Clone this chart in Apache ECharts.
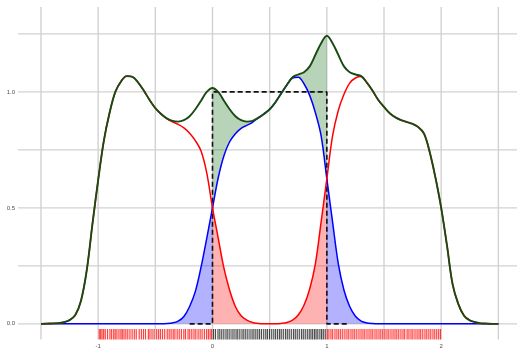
<!DOCTYPE html>
<html>
<head>
<meta charset="utf-8">
<script src="https://cdn.jsdelivr.net/npm/echarts@6/dist/echarts.min.js"></script>
<style>
html,body{margin:0;padding:0;background:#fff;}
#chart{width:517px;height:349px;}
</style>
</head>
<body>
<div id="chart"></div>
<script>
// x grid of the curves (step 0.05 from -1.5 to 2.5)
const xs = [-1.5,-1.45,-1.4,-1.35,-1.3,-1.25,-1.2,-1.15,-1.1,-1.05,-1,-0.95,-0.9,-0.85,-0.8,-0.75,-0.7,-0.65,-0.6,-0.55,-0.5,-0.45,-0.4,-0.35,-0.3,-0.25,-0.2,-0.15,-0.1,-0.05,0,0.05,0.1,0.15,0.2,0.25,0.3,0.35,0.4,0.45,0.5,0.55,0.6,0.65,0.7,0.75,0.8,0.85,0.9,0.95,1,1.05,1.1,1.15,1.2,1.25,1.3,1.35,1.4,1.45,1.5,1.55,1.6,1.65,1.7,1.75,1.8,1.85,1.9,1.95,2,2.05,2.1,2.15,2.2,2.25,2.3,2.35,2.4,2.45,2.5];

// total curve (dark green)
const greenVals = [0,0.001,0.002,0.003,0.007,0.016,0.038,0.1,0.23,0.43,0.62,0.79,0.91,1.0,1.045,1.068,1.065,1.04,1.005,0.965,0.93,0.905,0.886,0.875,0.872,0.878,0.895,0.925,0.962,1.0,1.017,1.0,0.962,0.925,0.895,0.878,0.872,0.875,0.888,0.905,0.925,0.955,0.993,1.03,1.063,1.075,1.085,1.11,1.16,1.21,1.242,1.21,1.16,1.11,1.085,1.075,1.068,1.04,1.005,0.965,0.935,0.908,0.89,0.878,0.87,0.862,0.848,0.82,0.74,0.63,0.5,0.34,0.17,0.085,0.035,0.015,0.007,0.002,0.001,0,0];

// red component
const redVals = [0,0.001,0.002,0.003,0.007,0.016,0.038,0.1,0.23,0.43,0.62,0.79,0.91,1.0,1.045,1.068,1.065,1.04,1.005,0.965,0.93,0.905,0.885,0.871,0.86,0.845,0.822,0.79,0.745,0.65,0.5,0.37,0.24,0.145,0.075,0.035,0.016,0.006,0.002,0,0,0,0.002,0.006,0.016,0.038,0.08,0.15,0.26,0.44,0.625,0.81,0.92,0.99,1.038,1.06,1.066,1.04,1.005,0.965,0.935,0.908,0.89,0.878,0.87,0.862,0.848,0.82,0.74,0.63,0.5,0.34,0.17,0.085,0.035,0.015,0.007,0.002,0.001,0,0];

// blue component
const blueVals = [0,0,0,0,0,0,0,0,0,0,0,0,0,0,0,0,0,0,0,0,0,0,0.001,0.004,0.012,0.032,0.075,0.14,0.245,0.37,0.5,0.63,0.725,0.785,0.82,0.843,0.856,0.869,0.888,0.905,0.925,0.955,0.993,1.03,1.06,1.063,1.035,0.985,0.91,0.81,0.625,0.44,0.26,0.145,0.075,0.033,0.012,0.004,0.001,0,0,0,0,0,0,0,0,0,0,0,0,0,0,0,0,0,0,0,0,0,0];

// dashed reference outline
const dashX = [-0.2,0,0,1,1,1.2];
const dashY = [0,0,1,1,0,0];

// rug positions
const rugRed = [-0.99,-0.978,-0.966,-0.952,-0.938,-0.918,-0.897,-0.882,-0.864,-0.851,-0.836,-0.818,-0.801,-0.789,-0.774,-0.758,-0.741,-0.722,-0.703,-0.684,-0.667,-0.641,-0.622,-0.604,-0.586,-0.561,-0.547,-0.529,-0.511,-0.488,-0.471,-0.455,-0.437,-0.418,-0.396,-0.379,-0.362,-0.344,-0.329,-0.309,-0.291,-0.272,-0.251,-0.236,-0.214,-0.199,-0.181,-0.162,-0.146,-0.126,-0.108,-0.091,-0.071,-0.052,-0.036,-0.021,-0.008,
  1.004,1.018,1.036,1.051,1.071,1.088,1.104,1.121,1.139,1.158,1.176,1.192,1.211,1.228,1.244,1.262,1.281,1.299,1.316,1.332,1.351,1.369,1.386,1.402,1.421,1.438,1.456,1.472,1.489,1.508,1.526,1.542,1.561,1.579,1.596,1.612,1.629,1.648,1.666,1.681,1.702,1.718,1.736,1.752,1.771,1.789,1.806,1.821,1.839,1.858,1.874,1.892,1.909,1.928,1.944,1.961,1.978,1.994];
const rugBlack = [0.009,0.026,0.048,0.064,0.081,0.099,0.118,0.134,0.152,0.171,0.188,0.206,0.221,0.239,0.258,0.274,0.291,0.309,0.328,0.346,0.362,0.379,0.396,0.412,0.429,0.448,0.466,0.481,0.499,0.518,0.536,0.552,0.569,0.586,0.601,0.619,0.638,0.654,0.671,0.689,0.708,0.724,0.741,0.759,0.778,0.794,0.811,0.829,0.846,0.861,0.876,0.892,0.906,0.921,0.939,0.954,0.969,0.986];

// gridlines and tick labels
const gridXVals = [-1.5,-1,-0.5,0,0.5,1,1.5,2,2.5];
const gridYVals = [0,0.25,0.5,0.75,1,1.25];
const xTickLabels = [-1,0,1,2];
const yTickLabels = [0,0.5,1];

const X_MIN = -1.701, X_MAX = 2.663, Y_MIN = -0.0675, Y_MAX = 1.366;

function pairs(xa, ya){ return xa.map((x,i)=>[x, ya[i]]); }
function idx(v){ return xs.findIndex(x => Math.abs(x - v) < 1e-9); }

const chart = echarts.init(document.getElementById('chart'), null, {renderer:'canvas'});

function underPoly(api, arr, a, b){
  const i0 = idx(a), i1 = idx(b);
  const pts = [api.coord([xs[i0], 0])];
  for (let i = i0; i <= i1; i++) pts.push(api.coord([xs[i], arr[i]]));
  pts.push(api.coord([xs[i1], 0]));
  return pts;
}
function betweenPoly(api, top, bot, a, b){
  const i0 = idx(a), i1 = idx(b);
  const pts = [];
  for (let i = i0; i <= i1; i++) pts.push(api.coord([xs[i], top[i]]));
  for (let i = i1; i >= i0; i--) pts.push(api.coord([xs[i], bot[i]]));
  return pts;
}

const option = {
  animation: false,
  backgroundColor: '#ffffff',
  grid: { left: 18, right: 0, top: 7, bottom: 6.5, containLabel: false },
  xAxis: {
    type: 'value', min: X_MIN, max: X_MAX,
    axisLine: {show:false}, axisTick: {show:false}, splitLine: {show:false},
    axisLabel: { customValues: xTickLabels, fontSize: 6, color: '#4d4d4d', margin: 3.5, fontFamily: 'Liberation Sans' }
  },
  yAxis: {
    type: 'value', min: Y_MIN, max: Y_MAX,
    axisLine: {show:false}, axisTick: {show:false}, splitLine: {show:false},
    axisLabel: { customValues: yTickLabels, fontSize: 6, color: '#4d4d4d', margin: 3, fontFamily: 'Liberation Sans',
      formatter: v => Number(v).toFixed(1) }
  },
  series: [
    { // gridlines
      type: 'custom', z: 0, silent: true, data: [[0,0]],
      renderItem: (params, api) => {
        const cs = params.coordSys;
        const ch = [];
        gridXVals.forEach(v => {
          const p = api.coord([v, 0]);
          ch.push({type:'line', shape:{x1:p[0], y1:cs.y, x2:p[0], y2:cs.y+cs.height}, style:{stroke:'#d2d2d2', lineWidth:1.4}});
        });
        gridYVals.forEach(v => {
          const p = api.coord([0, v]);
          ch.push({type:'line', shape:{x1:cs.x, y1:p[1], x2:cs.x+cs.width, y2:p[1]}, style:{stroke:'#d2d2d2', lineWidth:1.4}});
        });
        return {type:'group', children: ch};
      }
    },
    { // fills
      type: 'custom', z: 1, silent: true, data: [[0,0]],
      renderItem: (params, api) => {
        return {type:'group', children: [
          {type:'polygon', shape:{points: underPoly(api, blueVals, -0.45, 0)}, style:{fill:'rgba(0,0,255,0.3)'}},
          {type:'polygon', shape:{points: underPoly(api, blueVals, 1, 1.45)}, style:{fill:'rgba(0,0,255,0.3)'}},
          {type:'polygon', shape:{points: underPoly(api, redVals, 0, 1)}, style:{fill:'rgba(255,0,0,0.3)'}},
          {type:'polygon', shape:{points: betweenPoly(api, greenVals, blueVals, 0, 1)}, style:{fill:'rgba(0,100,0,0.28)'}}
        ]};
      }
    },
    { // rug
      type: 'custom', z: 2, silent: true, data: [[0,0]],
      renderItem: (params, api) => {
        const cs = params.coordSys;
        const yb = cs.y + cs.height;
        const ch = [];
        rugRed.forEach(v => {
          const p = api.coord([v, 0]);
          ch.push({type:'line', shape:{x1:p[0], y1:yb, x2:p[0], y2:yb-10.5}, style:{stroke:'rgba(255,0,0,0.75)', lineWidth:1.2}});
        });
        rugBlack.forEach(v => {
          const p = api.coord([v, 0]);
          ch.push({type:'line', shape:{x1:p[0], y1:yb, x2:p[0], y2:yb-10.5}, style:{stroke:'rgba(0,0,0,0.7)', lineWidth:1.2}});
        });
        return {type:'group', children: ch};
      }
    },
    { // dashed outline
      type: 'line', z: 3, data: pairs(dashX, dashY), symbol: 'none', silent: true,
      lineStyle: { color: '#111', width: 1.6, type: [5, 3] }
    },
    { type: 'line', z: 4, data: pairs(xs, blueVals), symbol: 'none', smooth: 0.35, silent: true,
      lineStyle: { color: '#0000ff', width: 1.5 } },
    { type: 'line', z: 5, data: pairs(xs, redVals), symbol: 'none', smooth: 0.35, silent: true,
      lineStyle: { color: '#ff0000', width: 1.5 } },
    { type: 'line', z: 6, data: pairs(xs, greenVals), symbol: 'none', smooth: 0.35, silent: true,
      lineStyle: { color: '#1a4a14', width: 1.9 } }
  ]
};
chart.setOption(option);
</script>
</body>
</html>
